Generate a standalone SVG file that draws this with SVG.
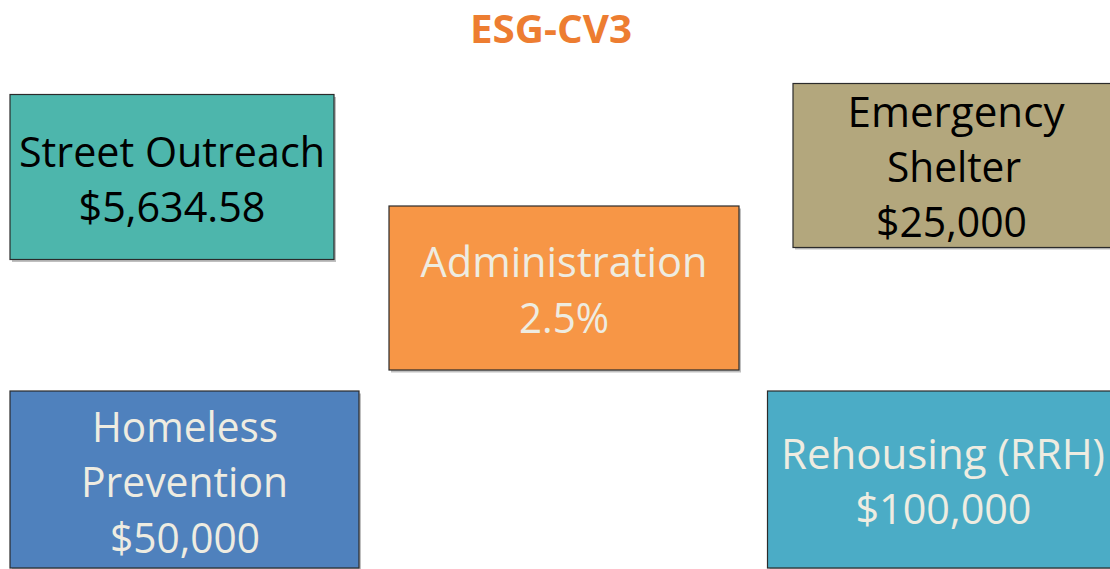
<svg xmlns="http://www.w3.org/2000/svg" width="1110" height="569" viewBox="0 0 1110 569">
<style>
.box{stroke:#2b2b2b;stroke-width:1.2}
.shadow{fill:#000;opacity:0.25}
.t{font-family:"Open Sans","Noto Sans",sans-serif;font-size:42px;text-anchor:middle}
.dark{fill:#000}
.light{fill:#EEECE1}
.title{font-family:"Open Sans","Noto Sans",sans-serif;font-weight:bold;font-size:40px;fill:#ED7D31;text-anchor:middle}
</style>
<rect width="1110" height="569" fill="#fff"/>
<text class="title" x="551" y="43" textLength="162" lengthAdjust="spacingAndGlyphs">ESG-CV3</text>
<g id="connectors"></g>
<g id="street-outreach">
<rect class="shadow" x="12" y="97" width="324" height="165"/>
<rect class="box" x="10" y="94.5" width="324" height="165" fill="#4DB6AC"/>
<text class="t dark" x="172" y="166.5" textLength="306" lengthAdjust="spacingAndGlyphs">Street Outreach</text>
<text class="t dark" x="172" y="221.5" textLength="187" lengthAdjust="spacingAndGlyphs">$5,634.58</text>
</g>
<g id="administration">
<rect class="shadow" x="391" y="208.5" width="350" height="164"/>
<rect class="box" x="389" y="206" width="350" height="164" fill="#F79646"/>
<text class="t light" x="564" y="276.5" textLength="287" lengthAdjust="spacingAndGlyphs">Administration</text>
<text class="t light" x="564" y="332.5" textLength="90" lengthAdjust="spacingAndGlyphs">2.5%</text>
</g>
<g id="emergency-shelter">
<rect class="shadow" x="795" y="85.5" width="330" height="164"/>
<rect class="box" x="793" y="83.5" width="330" height="164" fill="#B3A77D"/>
<text class="t dark" x="956" y="126.5" textLength="217" lengthAdjust="spacingAndGlyphs">Emergency</text>
<text class="t dark" x="954" y="181.5" textLength="134" lengthAdjust="spacingAndGlyphs">Shelter</text>
<text class="t dark" x="951.5" y="237" textLength="151" lengthAdjust="spacingAndGlyphs">$25,000</text>
</g>
<g id="homeless-prevention">
<rect class="shadow" x="12" y="393.5" width="349" height="180"/>
<rect class="box" x="10" y="391" width="349" height="177" fill="#4F81BD"/>
<text class="t light" x="185" y="441.5" textLength="186" lengthAdjust="spacingAndGlyphs">Homeless</text>
<text class="t light" x="184.5" y="496.5" textLength="207" lengthAdjust="spacingAndGlyphs">Prevention</text>
<text class="t light" x="185" y="553" textLength="150" lengthAdjust="spacingAndGlyphs">$50,000</text>
</g>
<g id="rehousing">
<rect class="shadow" x="769.5" y="393.5" width="360" height="180"/>
<rect class="box" x="767.5" y="391" width="360" height="177" fill="#4BACC6"/>
<text class="t light" x="943" y="468.5" textLength="324" lengthAdjust="spacingAndGlyphs">Rehousing (RRH)</text>
<text class="t light" x="943.5" y="524" textLength="176" lengthAdjust="spacingAndGlyphs">$100,000</text>
</g>
</svg>
